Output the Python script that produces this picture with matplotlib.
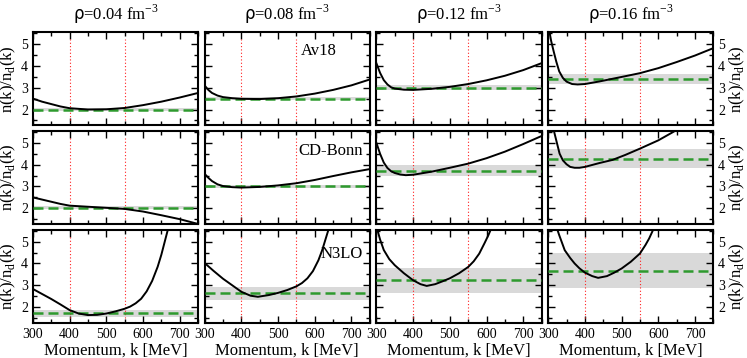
import matplotlib
matplotlib.use('Agg')
import matplotlib.pyplot as plt

plt.rcParams['font.family'] = ['Liberation Serif', 'DejaVu Serif']
plt.rcParams['mathtext.fontset'] = 'custom'
plt.rcParams['mathtext.rm'] = 'Liberation Serif'

densities = ['0.04', '0.08', '0.12', '0.16']
potentials = ['Av18', 'CD-Bonn', 'N3LO']

# n(k)/n_d(k): (momentum [MeV], ratio) per panel
k_av18 = {
    '0.04': [300, 325, 350, 375, 400, 450, 500, 550, 600, 650, 700, 750],
    '0.08': [300, 310, 320, 335, 350, 375, 400, 450, 500, 550, 600, 650, 700, 750],
    '0.12': [300, 310, 320, 330, 340, 350, 375, 400, 450, 500, 550, 600, 650, 700, 750],
    '0.16': [302, 308, 315, 322, 330, 340, 350, 365, 380, 400, 440, 475, 510, 550, 600,
             650, 700, 750],
}
r_av18 = {
    '0.04': [2.50, 2.36, 2.25, 2.14, 2.06, 2.00, 2.01, 2.07, 2.20, 2.36, 2.55, 2.76],
    '0.08': [3.10, 2.90, 2.76, 2.64, 2.57, 2.52, 2.49, 2.48, 2.52, 2.60, 2.73, 2.90, 3.11, 3.38],
    '0.12': [4.12, 3.68, 3.35, 3.15, 3.02, 2.96, 2.91, 2.90, 2.95, 3.04, 3.17, 3.34, 3.55,
             3.81, 4.13],
    '0.16': [5.70, 5.15, 4.66, 4.20, 3.75, 3.45, 3.28, 3.17, 3.15, 3.17, 3.29, 3.41, 3.53,
             3.67, 3.90, 4.18, 4.48, 4.82],
}
k_cdb = {
    '0.04': [300, 325, 350, 375, 400, 450, 500, 550, 600, 650, 700, 750],
    '0.08': [300, 310, 320, 335, 350, 375, 400, 450, 500, 550, 600, 650, 700, 750],
    '0.12': [300, 310, 320, 330, 340, 350, 365, 380, 400, 450, 500, 550, 600, 650, 700, 750],
    '0.16': [312, 320, 331, 340, 350, 360, 372, 385, 400, 440, 475, 510, 550, 600, 640, 655],
}
r_cdb = {
    '0.04': [2.50, 2.40, 2.30, 2.20, 2.12, 2.07, 2.02, 1.97, 1.85, 1.68, 1.50, 1.28],
    '0.08': [3.58, 3.40, 3.25, 3.10, 3.02, 2.97, 2.95, 2.98, 3.05, 3.15, 3.30, 3.48, 3.65, 3.80],
    '0.12': [5.00, 4.50, 4.10, 3.85, 3.70, 3.62, 3.55, 3.52, 3.54, 3.68, 3.86, 4.05, 4.30,
             4.60, 4.95, 5.32],
    '0.16': [5.80, 5.25, 4.51, 4.20, 4.02, 3.90, 3.86, 3.86, 3.90, 4.08, 4.22, 4.45, 4.74,
             5.12, 5.50, 5.65],
}
k_n3lo = {
    '0.04': [300, 325, 350, 375, 400, 425, 450, 475, 500, 525, 550, 565, 580, 595, 610, 625,
             640, 650, 660, 670],
    '0.08': [300, 325, 350, 375, 400, 425, 445, 475, 500, 525, 550, 565, 580, 595, 610, 620,
             630, 640],
    '0.12': [300, 310, 320, 335, 350, 375, 400, 420, 437, 460, 480, 500, 525, 550, 565, 580,
             595, 605, 615],
    '0.16': [320, 330, 345, 360, 372, 385, 400, 420, 436, 460, 480, 500, 525, 550, 565, 575,
             590],
}
r_n3lo = {
    '0.04': [2.83, 2.60, 2.37, 2.12, 1.86, 1.70, 1.63, 1.64, 1.70, 1.80, 1.92, 2.02, 2.17,
             2.38, 2.72, 3.20, 3.85, 4.40, 5.05, 5.70],
    '0.08': [4.02, 3.65, 3.30, 3.00, 2.70, 2.52, 2.47, 2.55, 2.65, 2.78, 2.95, 3.10, 3.32,
             3.65, 4.15, 4.60, 5.15, 5.70],
    '0.12': [5.70, 5.10, 4.62, 4.20, 3.92, 3.55, 3.23, 3.05, 2.97, 3.05, 3.18, 3.32, 3.55,
             3.84, 4.10, 4.45, 4.95, 5.30, 5.70],
    '0.16': [5.80, 5.30, 4.61, 4.25, 4.00, 3.78, 3.58, 3.42, 3.34, 3.42, 3.58, 3.77, 4.08,
             4.46, 4.85, 5.15, 5.70],
}
k_data = {'Av18': k_av18, 'CD-Bonn': k_cdb, 'N3LO': k_n3lo}
r_data = {'Av18': r_av18, 'CD-Bonn': r_cdb, 'N3LO': r_n3lo}

# fitted average (green dashed) with lower / upper edge of the grey band
avg_av18 = {'0.04': (2.00, 1.95, 2.05), '0.08': (2.50, 2.44, 2.57),
            '0.12': (3.00, 2.88, 3.14), '0.16': (3.40, 3.15, 3.65)}
avg_cdb = {'0.04': (2.03, 1.96, 2.09), '0.08': (3.00, 2.93, 3.07),
           '0.12': (3.73, 3.48, 4.00), '0.16': (4.25, 3.84, 4.70)}
avg_n3lo = {'0.04': (1.72, 1.55, 1.88), '0.08': (2.63, 2.30, 2.93),
            '0.12': (3.25, 2.65, 3.80), '0.16': (3.66, 2.87, 4.46)}
avg = {'Av18': avg_av18, 'CD-Bonn': avg_cdb, 'N3LO': avg_n3lo}

k_window = [400, 550]

fig, axes = plt.subplots(3, 4, figsize=(7.47, 3.58), dpi=100, sharex=True, sharey=True)
fig.subplots_adjust(left=0.044, right=0.955, top=0.91, bottom=0.098, wspace=0.04, hspace=0.06)

for i, pot in enumerate(potentials):
    for j, rho in enumerate(densities):
        ax = axes[i, j]
        m, lo, hi = avg[pot][rho]
        ax.axhspan(lo, hi, color='#d9d9d9', lw=0, zorder=1)
        ax.axhline(m, color='#2e9a2e', lw=1.8, ls=(0, (4, 2)), zorder=3)
        ax.vlines(k_window, 1.5, 5.25, color='#ff2020', lw=0.8, linestyles=(0, (1, 2)),
                  zorder=2)
        ax.plot(k_data[pot][rho], r_data[pot][rho], color='black', lw=1.4, zorder=4)

        ax.set_xlim(300, 750)
        ax.set_ylim(1.27, 5.55)
        ax.set_xticks([300, 400, 500, 600, 700])
        ax.set_xticks([350, 450, 550, 650, 750], minor=True)
        ax.set_yticks([2, 3, 4, 5])
        ax.set_yticks([1.5, 2.5, 3.5, 4.5, 5.5], minor=True)
        ax.tick_params(which='both', direction='in', top=True, right=True,
                       labelsize=10, width=1.0)
        ax.tick_params(which='major', length=5)
        ax.tick_params(which='minor', length=3)
        for s in ax.spines.values():
            s.set_linewidth(1.5)

        if i == 0:
            ax.set_title(r'$\mathsf{\rho}$=' + rho + ' fm$^{-3}$', fontsize=12, pad=9)
        if i == 2:
            ax.set_xlabel('Momentum, k [MeV]', fontsize=12, labelpad=1)
        if j == 0:
            ax.set_ylabel(r'n(k)/n$_{\rm d}$(k)', fontsize=12, labelpad=2)
        if j == 3:
            ax.yaxis.set_label_position('right')
            ax.tick_params(labelright=True)
            ax.set_ylabel(r'n(k)/n$_{\rm d}$(k)', fontsize=12, labelpad=2)

axes[0, 1].text(0.80, 0.80, 'Av18', transform=axes[0, 1].transAxes,
                ha='right', va='center', fontsize=12)
axes[1, 1].text(0.96, 0.78, 'CD-Bonn', transform=axes[1, 1].transAxes,
                ha='right', va='center', fontsize=12)
axes[2, 1].text(0.96, 0.74, 'N3LO', transform=axes[2, 1].transAxes,
                ha='right', va='center', fontsize=12)

fig.savefig('out.png', dpi=100)
